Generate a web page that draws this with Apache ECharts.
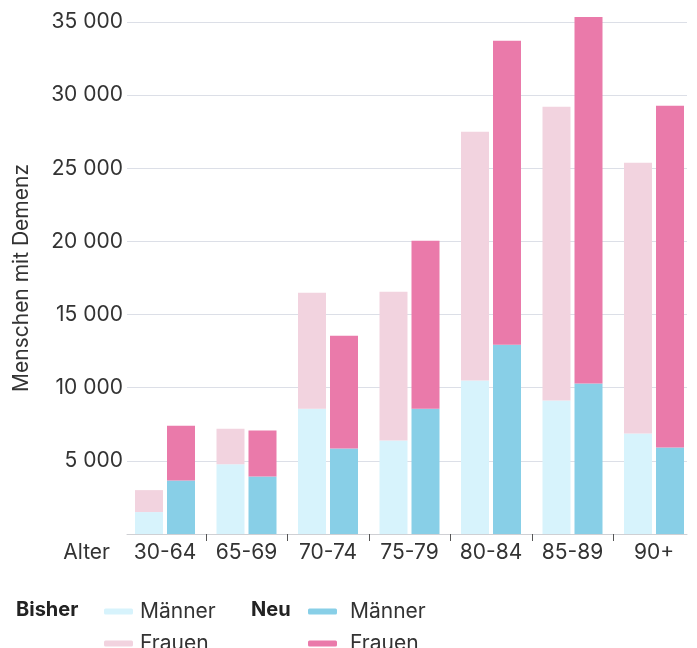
<!DOCTYPE html>
<html>
<head>
<meta charset="utf-8">
<script src="https://cdn.jsdelivr.net/npm/echarts@6/dist/echarts.min.js"></script>
<style>
  html, body { margin: 0; padding: 0; background: #fff; }
  #chart { width: 697px; height: 648px; }
</style>
</head>
<body>
<div id="chart"></div>
<script>
// ---- Data ----
const categories = ['30-64', '65-69', '70-74', '75-79', '80-84', '85-89', '90+'];
const bisherMaenner = [1500, 4770, 8570, 6390, 10490, 9120, 6870];
const bisherFrauen  = [1500, 2430, 7930, 10170, 17000, 20080, 18510];
const neuMaenner    = [3650, 3930, 5840, 8570, 12940, 10280, 5910];
const neuFrauen     = [3750, 3140, 7720, 11480, 20770, 25070, 23360];
const yTicks = [0, 5000, 10000, 15000, 20000, 25000, 30000, 35000];

const FONT = 'Inter, "Liberation Sans", Arial, sans-serif';
const TXT = '#333333';
const colBM = '#d7f3fc', colBF = '#f2d3df', colNM = '#88cfe7', colNF = '#ea7aaa';

function fmt(v) {
  if (v === 0) return '';
  return String(v).replace(/\B(?=(\d{3})+(?!\d))/g, ' ');
}

const yMin = yTicks[0], yMax = yTicks[yTicks.length - 1], yStep = yTicks[1] - yTicks[0];

function legendItem(name, left, top, pad) {
  return {
    left: left, top: top, padding: 0, orient: 'horizontal',
    itemWidth: 29, itemHeight: 6, icon: 'roundRect',
    data: [name],
    formatter: n => n.split(' ')[1],
    textStyle: { fontSize: 21, color: TXT, fontFamily: FONT, padding: [0, 0, 0, pad] },
    selectedMode: false
  };
}

const chart = echarts.init(document.getElementById('chart'), null, { renderer: 'canvas' });
chart.setOption({
  animation: false,
  textStyle: { fontFamily: FONT, color: TXT },
  grid: [
    { left: 124.25, right: 2.25, top: 22, bottom: 114, outerBoundsMode: 'none', containLabel: false },
    { left: 127, right: 10, top: 22, bottom: 114, outerBoundsMode: 'none', containLabel: false },
    { left: 205.75, right: 83.75, top: 22, bottom: 114, outerBoundsMode: 'none', containLabel: false }
  ],
  xAxis: [
    {
      gridIndex: 0, type: 'category', data: categories,
      axisLine: { show: false }, axisTick: { show: false },
      axisLabel: { fontSize: 21, color: TXT, margin: 8, fontFamily: FONT }
    },
    {
      gridIndex: 1, type: 'category', data: categories,
      axisLine: { show: true, lineStyle: { color: '#cfd0d4', width: 1 } },
      axisTick: { show: false }, axisLabel: { show: false }
    },
    {
      gridIndex: 2, type: 'category', boundaryGap: false,
      data: categories.slice(1).map(() => ''),
      offset: 1,
      axisLine: { show: false },
      axisTick: { show: true, length: 7, lineStyle: { color: '#555', width: 1 } },
      axisLabel: { show: false }
    }
  ],
  yAxis: [
    { gridIndex: 0, type: 'value', min: yMin, max: yMax, interval: yStep, show: false },
    {
      gridIndex: 1, type: 'value', min: yMin, max: yMax, interval: yStep,
      axisLine: { show: false }, axisTick: { show: false },
      splitLine: { show: true, lineStyle: { color: '#dcdfe7', width: 1 } },
      axisLabel: { fontSize: 21, color: TXT, margin: 4, formatter: fmt, fontFamily: FONT },
      name: 'Menschen mit Demenz', nameLocation: 'middle', nameRotate: 90, nameGap: 95,
      nameTextStyle: { fontSize: 21, color: TXT, fontFamily: FONT }
    },
    { gridIndex: 2, type: 'value', min: yMin, max: yMax, show: false }
  ],
  legend: [
    legendItem('Bisher Männer', 104, 601, 2),
    legendItem('Bisher Frauen', 104, 633, 2),
    legendItem('Neu Männer', 308, 601, 8),
    legendItem('Neu Frauen', 308, 633, 8)
  ],
  graphic: [
    { type: 'text', left: 16, top: 600, style: { text: 'Bisher', fontSize: 20, fontWeight: 'bold', fill: '#222', fontFamily: FONT } },
    { type: 'text', left: 251, top: 600, style: { text: 'Neu', fontSize: 20, fontWeight: 'bold', fill: '#222', fontFamily: FONT } },
    { type: 'text', right: 697 - 110, top: 542, style: { text: 'Alter', fontSize: 21, fill: TXT, fontFamily: FONT } }
  ],
  series: [
    { name: 'Bisher Männer', type: 'bar', stack: 'bisher', xAxisIndex: 0, yAxisIndex: 0,
      data: bisherMaenner, barWidth: 28, itemStyle: { color: colBM } },
    { name: 'Bisher Frauen', type: 'bar', stack: 'bisher', xAxisIndex: 0, yAxisIndex: 0,
      data: bisherFrauen, barWidth: 28, itemStyle: { color: colBF } },
    { name: 'Neu Männer', type: 'bar', stack: 'neu', xAxisIndex: 0, yAxisIndex: 0,
      data: neuMaenner, barWidth: 28, itemStyle: { color: colNM } },
    { name: 'Neu Frauen', type: 'bar', stack: 'neu', xAxisIndex: 0, yAxisIndex: 0,
      data: neuFrauen, barWidth: 28, barGap: '14.3%', clip: false, itemStyle: { color: colNF } }
  ]
});
</script>
</body>
</html>
